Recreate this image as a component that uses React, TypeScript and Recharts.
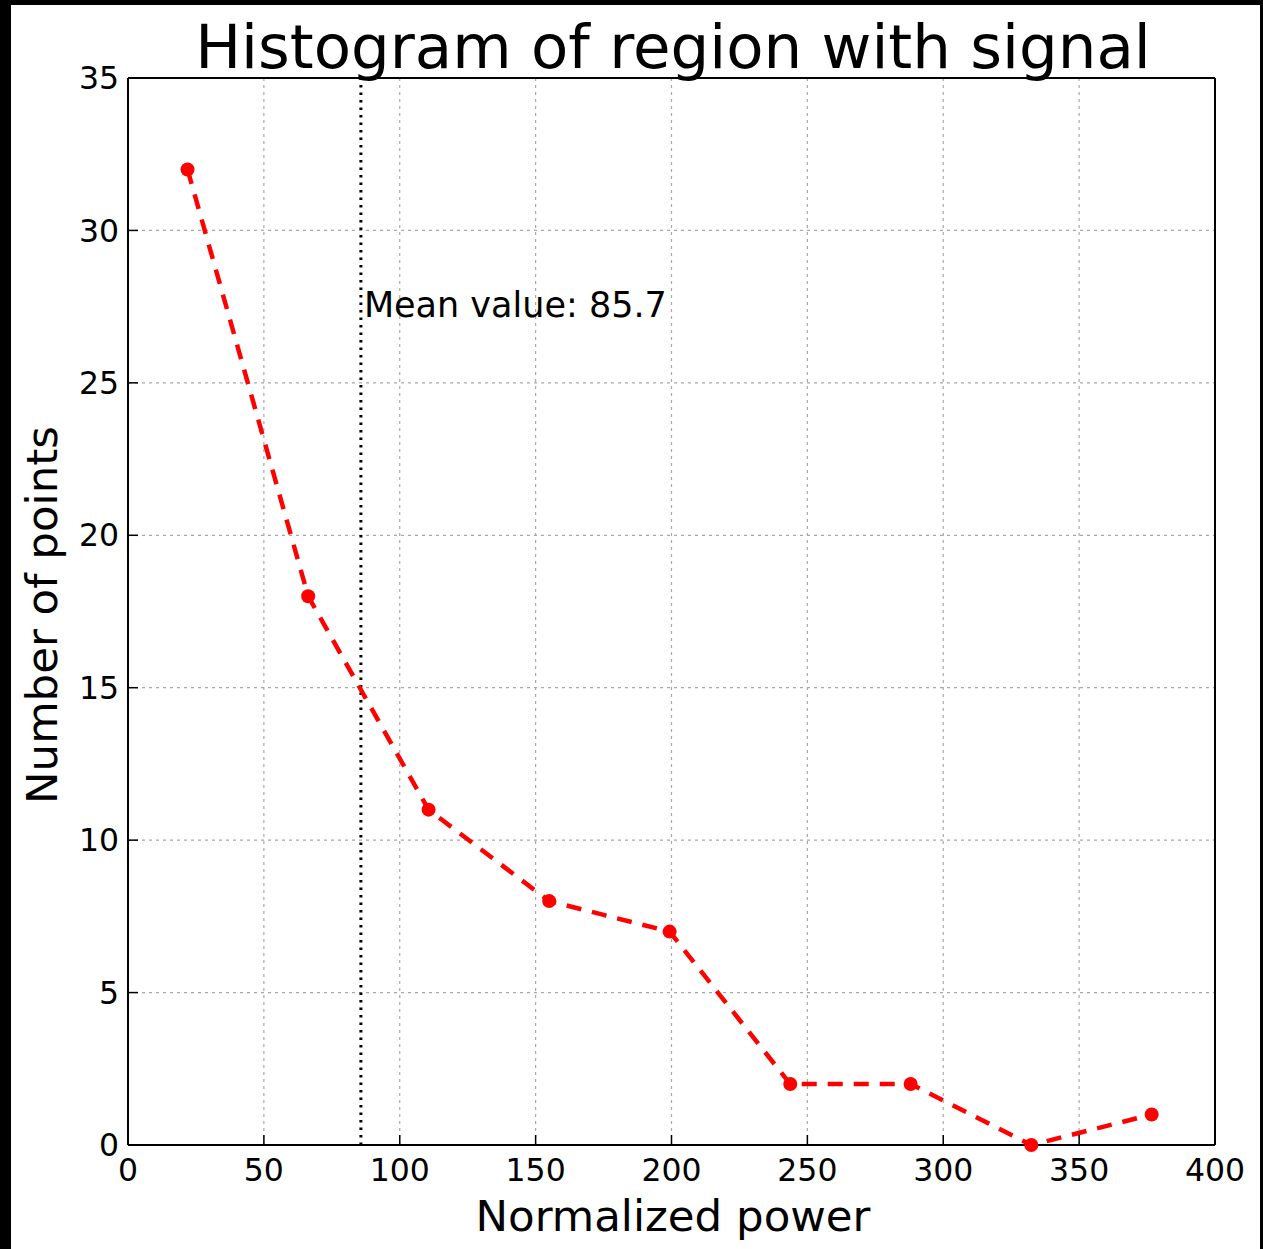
import React from 'react';
import {
  LineChart,
  Line,
  XAxis,
  YAxis,
  CartesianGrid,
  ReferenceLine,
  ReferenceDot,
} from 'recharts';

// bin centres of the histogram and the counts in each bin
const binCenters = [21.9, 66.3, 110.6, 155.0, 199.3, 243.7, 288.0, 332.4, 376.7];
const pointCounts = [32, 18, 11, 8, 7, 2, 2, 0, 1];

const xTicks = [0, 50, 100, 150, 200, 250, 300, 350, 400];
const yTicks = [0, 5, 10, 15, 20, 25, 30, 35];

const MEAN_VALUE = 85.7;
const MEAN_LABEL_Y = 27.15;

const chartData = binCenters.map((power, i) => ({ power, count: pointCounts[i] }));

const FONT = '"DejaVu Sans", sans-serif';
const W = 1263;
const H = 1249;

const MeanLabel = (props: any) => {
  const vb = props.viewBox;
  if (!vb) return null;
  const cx = vb.x + (vb.width || 0) / 2;
  const cy = vb.y + (vb.height || 0) / 2;
  return (
    <text x={cx + 3} y={cy} fontSize={35} fontFamily={FONT} fill="#000">
      {`Mean value: ${MEAN_VALUE}`}
    </text>
  );
};

const App: React.FC = () => {
  const tickStyle = { fill: '#000', fontSize: 31.5, fontFamily: FONT };
  const frame = { stroke: '#000', strokeWidth: 2 };
  const tickLine = { stroke: '#000', strokeWidth: 1.5 };

  return (
    <div style={{ position: 'fixed', left: 0, top: 0, width: W, height: H, background: '#000' }}>
      <div style={{ position: 'absolute', left: 11, top: 5, width: 1249, height: 1244, background: '#fff' }} />
      <div style={{ position: 'absolute', left: 0, top: 0 }}>
        <LineChart
          width={W}
          height={H}
          data={chartData}
          margin={{ top: 77, right: 47, bottom: 64, left: 68 }}
        >
          <CartesianGrid stroke="#a8a8a8" strokeWidth={1.2} strokeDasharray="3 4" />
          <XAxis
            dataKey="power"
            type="number"
            domain={[0, 400]}
            ticks={xTicks}
            interval={0}
            height={40}
            tick={tickStyle}
            tickSize={-10}
            tickMargin={24}
            axisLine={frame}
            tickLine={tickLine}
          />
          <XAxis
            xAxisId="top"
            orientation="top"
            type="number"
            domain={[0, 400]}
            ticks={xTicks}
            interval={0}
            height={1}
            tick={false}
            tickSize={-10}
            axisLine={frame}
            tickLine={tickLine}
          />
          <YAxis
            type="number"
            domain={[0, 35]}
            ticks={yTicks}
            interval={0}
            width={60}
            tick={tickStyle}
            tickSize={-10}
            tickMargin={19}
            axisLine={frame}
            tickLine={tickLine}
          />
          <YAxis
            yAxisId="right"
            orientation="right"
            type="number"
            domain={[0, 35]}
            ticks={yTicks}
            interval={0}
            width={1}
            tick={false}
            tickSize={-10}
            axisLine={frame}
            tickLine={tickLine}
          />
          <ReferenceLine
            x={MEAN_VALUE}
            stroke="#000"
            strokeWidth={3}
            strokeDasharray="2.5 5"
          />
          <ReferenceDot
            x={MEAN_VALUE}
            y={MEAN_LABEL_Y}
            r={1}
            fill="none"
            stroke="none"
            label={(p: any) => <MeanLabel {...p} />}
          />
          <Line
            dataKey="count"
            type="linear"
            stroke="#ff0000"
            strokeWidth={4.5}
            strokeDasharray="15 11"
            dot={{ r: 7, fill: '#ff0000', stroke: 'none', strokeDasharray: '' }}
            activeDot={false}
            isAnimationActive={false}
          />
        </LineChart>
      </div>
      <svg
        width={W}
        height={H}
        style={{ position: 'absolute', left: 0, top: 0, pointerEvents: 'none' }}
      >
        <text x={673} y={68} textAnchor="middle" fontSize={61} fontFamily={FONT} fill="#000">
          Histogram of region with signal
        </text>
        <text x={673} y={1231} textAnchor="middle" fontSize={43.5} fontFamily={FONT} fill="#000">
          Normalized power
        </text>
        <text
          transform="translate(57, 615) rotate(-90)"
          textAnchor="middle"
          fontSize={43.5}
          fontFamily={FONT}
          fill="#000"
        >
          Number of points
        </text>
      </svg>
    </div>
  );
};

export default App;
